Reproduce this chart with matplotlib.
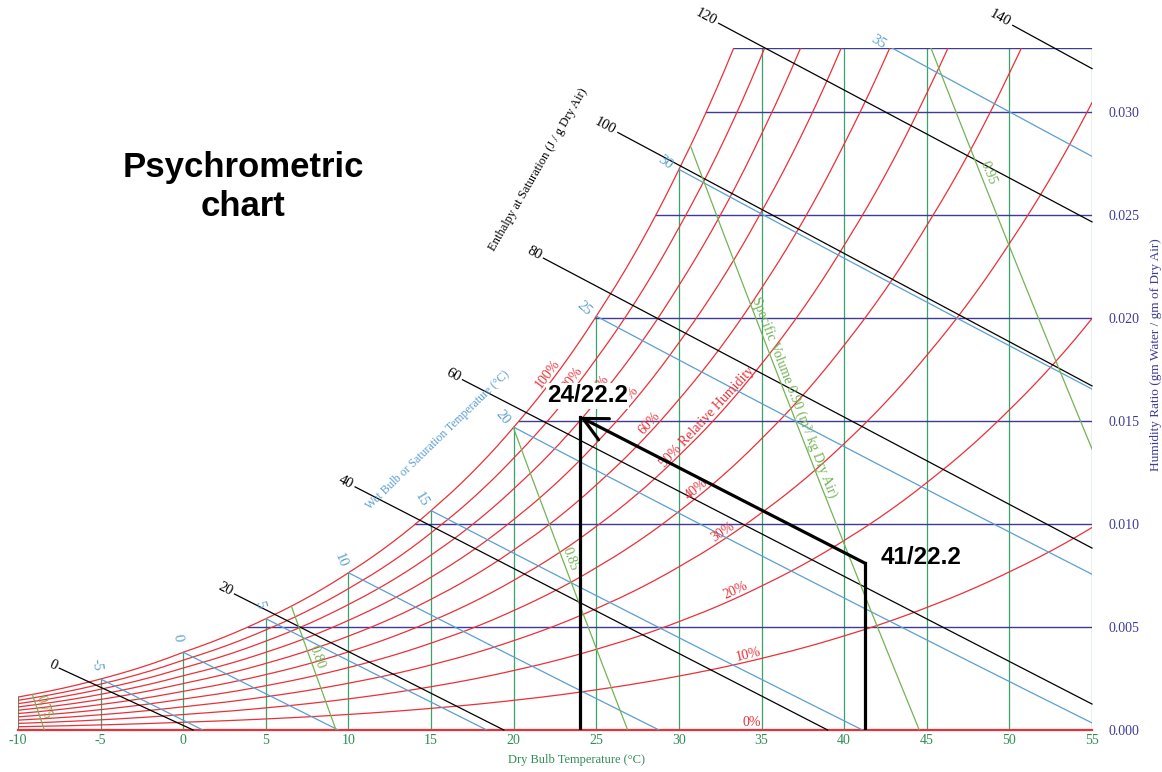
import numpy as np
import matplotlib
matplotlib.use("Agg")
import matplotlib.pyplot as plt

plt.rcParams['font.family'] = ['Liberation Serif', 'DejaVu Serif']

# ---------------- data ----------------
table_temps_c = [-10, -5, 0, 5, 10, 15, 20, 25, 30, 35, 40, 45, 50, 55]
table_psat_kpa = [0.2599, 0.4017, 0.6112, 0.8726, 1.2282, 1.7057, 2.3392,
                  3.1697, 4.2467, 5.6286, 7.3844, 9.5944, 12.351, 15.761]
pressure_kpa = 101.325
rh_levels = [10, 20, 30, 40, 50, 60, 70, 80, 90, 100]
dry_bulb_ticks = [-10, -5, 0, 5, 10, 15, 20, 25, 30, 35, 40, 45, 50, 55]
humidity_ticks = [0.000, 0.005, 0.010, 0.015, 0.020, 0.025, 0.030]
humidity_top = 0.0331
wet_bulb_temps = [-5, 0, 5, 10, 15, 20, 25, 30, 35]
enthalpy_values = [0, 20, 40, 60, 80, 100, 120, 140]
enthalpy_start_t = [-7.5, 3.1, 10.4, 16.9, 21.8, 26.3, 32.4, 50.2]
enthalpy_start_w = [0.0030, 0.0066, 0.0118, 0.0170, 0.0229, 0.0290, 0.0343, 0.0342]
enthalpy_end_t = [0.6, 19.4, 39.0, 55, 55, 55, 55, 55]
enthalpy_end_w = [0.0, 0.0, 0.0, 0.00126, 0.00883, 0.0167, 0.02466, 0.0321]
specific_volumes = [0.75, 0.80, 0.85, 0.90, 0.95]
state_dry_bulb = [24.0, 41.25]
state_humidity = [0.0152, 0.0081]
state_labels = ["24/22.2", "41/22.2"]

# ---------------- layout / style ----------------
rh_label_t = {0: 34.4, 10: 34.3, 20: 33.6, 30: 32.9, 40: 31.3, 50: 32.0,
              60: 28.5, 70: 27.2, 80: 25.5, 90: 23.9, 100: 22.4}
vol_label_w = [0.0010, 0.0034, 0.0082, 0.0160, 0.0269]

RED = '#ea3038'
GRID_GREEN = '#3aa36a'
NAVY = '#3c3c96'
WB_BLUE = '#5a9fd0'
VOL_GREEN = '#72b455'
TICK_GREEN = '#2f8f55'

fig = plt.figure(figsize=(11.62, 7.72), dpi=100)
ax = fig.add_axes([18 / 1162, 42 / 772, 1074 / 1162, 682 / 772])
ax.set_xlim(-10, 55)
ax.set_ylim(0, humidity_top)
for s in ax.spines.values():
    s.set_visible(False)


def psat(t):
    return np.exp(np.interp(t, table_temps_c, np.log(table_psat_kpa)))


def w_of(t, phi):
    pv = phi * psat(t)
    return 0.622 * pv / (pressure_kpa - pv)


t_fine = np.linspace(-10, 55, 1301)
wsat_fine = w_of(t_fine, 1.0)


def tsat_of_w(w):
    return np.interp(w, wsat_fine, t_fine)


def disp_angle(p, q):
    a = ax.transData.transform(p)
    b = ax.transData.transform(q)
    return np.degrees(np.arctan2(b[1] - a[1], b[0] - a[0]))


# vertical dry bulb lines
for t in dry_bulb_ticks:
    top = min(float(w_of(t, 1.0)), humidity_top)
    ax.plot([t, t], [0, top], color=GRID_GREEN, lw=0.9, zorder=2)

# horizontal humidity ratio lines
for w in humidity_ticks[1:] + [humidity_top]:
    ax.plot([tsat_of_w(w), 55], [w, w], color=NAVY, lw=1.0, zorder=2)

# relative humidity curves
for phi in rh_levels:
    ax.plot(t_fine, w_of(t_fine, phi / 100), color=RED, lw=0.9, zorder=3)
ax.plot([-10, 55], [0, 0], color=RED, lw=1.6, zorder=3, clip_on=False)

for phi in [0] + rh_levels:
    t = rh_label_t[phi]
    w = float(w_of(t, phi / 100))
    a = disp_angle((t - 0.3, float(w_of(t - 0.3, phi / 100))),
                   (t + 0.3, float(w_of(t + 0.3, phi / 100))))
    txt = "50% Relative Humidity" if phi == 50 else f"{phi}%"
    ar = np.radians(a)
    ax.annotate(txt, xy=(t, w), xytext=(-np.sin(ar) * 7, np.cos(ar) * 7),
                textcoords='offset pixels', rotation=a, rotation_mode='anchor',
                ha='center', va='center', color=RED, fontsize=10, zorder=4)

# wet bulb lines
for twb in wet_bulb_temps:
    ws = float(w_of(twb, 1.0))
    a_coef = (2501 - 2.326 * twb) * ws
    t_zero = twb + a_coef / 1.006
    t_start = twb
    if ws > humidity_top:
        t_start = (a_coef + 1.006 * twb - humidity_top * (2501 - 4.186 * twb)) / (1.006 + 1.86 * humidity_top)
    tt = np.linspace(t_start, min(t_zero, 55), 200)
    ww = (a_coef - 1.006 * (tt - twb)) / (2501 + 1.86 * tt - 4.186 * twb)
    ax.plot(tt, ww, color=WB_BLUE, lw=0.9, zorder=3)
    tc = min(twb, 32.8)
    ca = disp_angle((tc - 0.3, float(w_of(tc - 0.3, 1.0))), (tc + 0.3, float(w_of(tc + 0.3, 1.0))))
    nrm = np.radians(ca + 90)
    rot = ca - 100
    ax.annotate(str(twb), xy=(tt[0], ww[0]), xytext=(np.cos(nrm) * 15, np.sin(nrm) * 15),
                textcoords='offset pixels', rotation=rot, rotation_mode='anchor',
                ha='center', va='center', color=WB_BLUE, fontsize=10.5,
                annotation_clip=False, zorder=4)

# enthalpy lines
for h, st, sw, et, ew in zip(enthalpy_values, enthalpy_start_t, enthalpy_start_w,
                             enthalpy_end_t, enthalpy_end_w):
    ax.plot([st, et], [sw, ew], color='black', lw=0.9, zorder=3, clip_on=False)
    a = disp_angle((st, sw), (et, ew))
    ar = np.radians(a)
    ax.annotate(str(h), xy=(st, sw), xytext=(-np.cos(ar) * 3, -np.sin(ar) * 3),
                textcoords='offset pixels', rotation=a, rotation_mode='anchor',
                ha='right', va='center', color='black', fontsize=10.5,
                annotation_clip=False, zorder=4)

# specific volume lines
w_grid = np.linspace(0, humidity_top, 2000)
for v, lw_pos in zip(specific_volumes, vol_label_w):
    def t_v(w, v=v):
        return v * pressure_kpa / (0.287042 * (1 + 1.6078 * np.asarray(w))) - 273.15
    diff = t_v(w_grid) - tsat_of_w(w_grid)
    if diff[-1] < 0:
        w_cross = np.interp(0, -diff, w_grid)
    else:
        w_cross = humidity_top
    wl = np.linspace(0, w_cross, 300)
    ax.plot(t_v(wl), wl, color=VOL_GREEN, lw=0.9, zorder=3)
    tl = float(t_v(lw_pos))
    a = disp_angle((float(t_v(lw_pos + 0.0005)), lw_pos + 0.0005),
                   (float(t_v(lw_pos - 0.0005)), lw_pos - 0.0005))
    ar = np.radians(a)
    txt = "Specific Volume 0.90 (m³/ kg Dry Air)" if v == 0.90 else f"{v:.2f}"
    ax.annotate(txt, xy=(tl, lw_pos), xytext=(-np.sin(ar) * 7, np.cos(ar) * 7),
                textcoords='offset pixels', rotation=a, rotation_mode='anchor',
                ha='center', va='center', color=VOL_GREEN, fontsize=10, zorder=4)

# process annotation
ax.plot([state_dry_bulb[0]] * 2, [0, state_humidity[0]], color='black', lw=2.3, zorder=6)
ax.plot([state_dry_bulb[1]] * 2, [0, state_humidity[1]], color='black', lw=2.3, zorder=6)
ax.annotate('', xy=(state_dry_bulb[0], state_humidity[0]),
            xytext=(state_dry_bulb[1], state_humidity[1]),
            arrowprops=dict(arrowstyle='->,head_length=1.7,head_width=0.85',
                            lw=2.3, color='black', shrinkA=0, shrinkB=0),
            zorder=6)
ax.annotate(state_labels[0], xy=(state_dry_bulb[0], state_humidity[0]), xytext=(8, 21),
            textcoords='offset pixels', ha='center', va='center', fontsize=17.5,
            fontweight='bold', family='Liberation Sans', color='black', zorder=7,
            bbox=dict(boxstyle='square,pad=0.05', fc='white', ec='none'))
ax.annotate(state_labels[1], xy=(state_dry_bulb[1], state_humidity[1]), xytext=(56, 6),
            textcoords='offset pixels', ha='center', va='center', fontsize=17.5,
            fontweight='bold', family='Liberation Sans', color='black', zorder=7)

# axis ticks
ax.set_xticks(dry_bulb_ticks)
ax.set_xticklabels([str(t) for t in dry_bulb_ticks])
ax.tick_params(axis='x', length=0, pad=3, labelsize=10, labelcolor=TICK_GREEN)
ax.yaxis.tick_right()
ax.set_yticks(humidity_ticks)
ax.set_yticklabels([f"{v:.3f}" for v in humidity_ticks])
ax.tick_params(axis='y', length=0, pad=12, labelsize=10, labelcolor=NAVY)

# texts
fig.text(243 / 1162, 1 - 187 / 772, "Psychrometric\nchart", ha='center', va='center',
         fontsize=25, fontweight='bold', family='Liberation Sans', color='black',
         linespacing=1.22)
fig.text(577 / 1162, 1 - 760 / 772, "Dry Bulb Temperature (°C)", ha='center', va='center',
         fontsize=9, color=TICK_GREEN)
fig.text(1156 / 1162, 1 - 355 / 772, "Humidity Ratio (gm Water / gm of Dry Air)",
         ha='center', va='center', rotation=90, fontsize=9.5, color=NAVY)
fig.text(538 / 1162, 1 - 170 / 772, "Enthalpy at Saturation (J / g Dry Air)",
         ha='center', va='center', rotation=60, fontsize=9, color='black')
fig.text(438 / 1162, 1 - 440 / 772, "Wet Bulb or Saturation Temperature (°C)",
         ha='center', va='center', rotation=44, fontsize=8.5, color=WB_BLUE)

fig.savefig('out.png', dpi=100)
